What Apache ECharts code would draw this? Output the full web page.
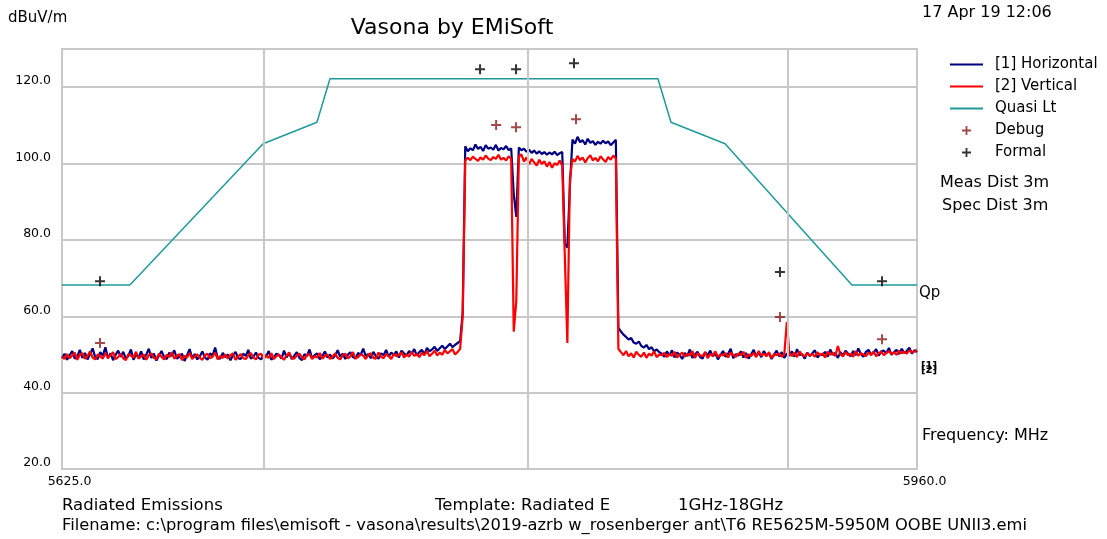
<!DOCTYPE html>
<html>
<head>
<meta charset="utf-8">
<script src="https://cdn.jsdelivr.net/npm/echarts@6/dist/echarts.min.js"></script>
<style>
  html, body { margin: 0; padding: 0; background: #fff; }
  #chart { width: 1107px; height: 539px; }
</style>
</head>
<body>
<div id="chart"></div>
<script>
  // sweep: 1 MHz steps from 5625 MHz
  const sweepStart = 5625
  const sweepStep = 1

  const horizontal = [
    49.0, 50.2, 48.6, 49.8, 50.9, 48.9, 49.5, 51.2, 49.1, 50.4, 48.7, 50.1, 51.6, 49.3, 48.8, 50.6, 49.7, 51.9, 49.0, 50.3,
    48.5, 49.9, 51.0, 49.4, 50.7, 48.9, 49.6, 51.3, 48.6, 50.0, 49.2, 50.8, 48.7, 49.9, 51.5, 49.1, 50.2, 48.4, 49.7, 50.9,
    49.3, 48.8, 50.5, 49.6, 51.1, 48.9, 49.4, 50.2, 48.3, 49.8, 51.4, 49.0, 50.1, 48.7, 49.5, 50.8, 49.2, 48.6, 50.3, 49.7,
    51.8, 49.1, 48.9, 50.4, 49.3, 50.0, 48.5, 49.8, 50.7, 49.0, 48.8, 50.2, 49.6, 51.2, 48.9, 49.4, 50.5, 49.1, 48.7, 50.0,
    49.5, 50.9, 48.6, 49.3, 50.2, 49.8, 48.9, 51.0, 49.2, 50.4, 48.8, 49.7, 50.6, 49.1, 48.5, 50.1, 49.6, 51.3, 49.0, 49.8,
    50.3, 48.7, 49.5, 50.8, 49.2, 50.0, 48.9, 49.7, 51.1, 49.4, 50.2, 48.8, 49.9, 50.6, 49.3, 48.9, 50.4, 49.8, 51.5, 49.6,
    50.1, 49.0, 50.7, 49.5, 48.9, 50.3, 49.8, 51.2, 49.4, 50.5, 49.9, 50.8, 49.2, 51.0, 50.3, 49.7, 50.9, 50.2, 51.4, 49.8,
    50.6, 51.2, 50.0, 51.7, 50.8, 51.3, 52.0, 50.9, 51.6, 52.3, 51.4, 52.1, 52.8, 51.9, 52.5, 53.0,
    53.5, 61.0,
    104.5, 103.2, 104.0, 103.5, 105.0, 103.8, 104.4, 103.3, 104.8, 103.9, 104.2, 103.6, 104.9, 103.4, 104.1, 103.7, 104.6, 103.5, 104.0,
    92.0, 86.0,
    104.2, 103.5, 103.9, 103.1, 103.6, 102.8, 103.4, 102.6, 103.2, 102.5, 103.0, 102.3, 102.9, 102.4, 103.1, 102.2, 102.7, 103.0,
    79.0, 78.0, 94.0,
    106.3, 105.2, 107.0, 105.6, 106.1, 105.0, 106.5, 105.4, 105.9, 104.9, 105.7, 105.2, 106.0, 105.3, 105.8, 104.8, 105.5, 106.2,
    57.0,
    56.0, 55.2, 54.6, 53.9, 54.3, 53.1, 52.8, 53.4, 52.2, 51.8, 52.5, 51.4, 51.9, 50.8, 51.3, 50.6,
    50.2, 49.4, 50.8, 49.7, 51.1, 49.2, 50.5, 49.9, 48.8, 50.4,
    49.6, 51.3, 49.1, 50.0, 50.7, 49.3, 48.9, 50.6, 49.8, 51.0,
    49.5, 50.3, 48.7, 49.9, 50.9, 49.4, 50.2, 51.5, 49.0, 50.1,
    49.7, 50.8, 49.2, 50.4, 48.9, 50.0, 51.2, 49.6, 50.5, 49.3,
    50.9, 49.8, 50.3, 48.8, 49.9, 51.0, 49.5, 50.6, 49.1, 50.2,
    49.7, 50.8, 49.4, 51.4, 49.9, 50.1, 48.9, 50.5, 49.6, 50.3,
    51.1, 49.2, 50.0, 49.8, 50.7, 49.4, 51.3, 49.9, 50.4, 49.1,
    50.6, 49.7, 51.0, 50.2, 49.5, 50.9, 49.8, 51.6, 50.1, 49.4,
    50.7, 51.2, 49.9, 50.5, 51.4, 49.7, 50.8, 51.0, 50.3, 51.7,
    49.9, 50.6, 51.2, 50.1, 51.5, 50.4, 50.9, 51.8, 50.2, 51.1, 50.6
  ]

  const vertical = [
    49.4, 48.8, 50.1, 49.0, 49.7, 50.5, 48.6, 49.9, 50.3, 48.9, 49.6, 50.8, 49.2, 48.7, 50.0, 49.5, 48.9, 50.4, 49.1, 49.8,
    50.6, 48.8, 49.3, 50.2, 49.0, 48.5, 50.1, 49.7, 49.2, 50.7, 48.9, 49.5, 50.0, 48.6, 49.8, 50.3, 49.1, 48.8, 50.2, 49.4,
    48.7, 49.9, 49.3, 50.6, 48.9, 49.6, 50.1, 48.5, 49.7, 49.2, 50.4, 48.8, 49.5, 50.0, 49.1, 48.6, 49.8, 50.2, 49.0, 49.4,
    50.5, 48.7, 49.6, 49.1, 50.0, 48.9, 49.8, 50.3, 48.6, 49.4, 50.1, 49.0, 48.8, 49.7, 50.4, 49.2, 48.7, 49.9, 50.2, 48.9,
    49.6, 49.1, 50.3, 48.8, 49.5, 50.0, 49.2, 48.6, 49.8, 50.5, 49.0, 48.9, 49.7, 50.2, 49.3, 48.7, 49.9, 50.1, 48.8, 49.5,
    49.2, 50.4, 48.9, 49.6, 50.0, 48.8, 49.4, 50.3, 49.1, 48.7, 49.8, 50.2, 49.0, 49.5, 50.6, 48.9, 49.3, 50.0, 49.7, 48.8,
    49.9, 50.3, 49.1, 48.9, 50.5, 49.4, 49.0, 50.1, 49.6, 48.8, 50.2, 49.5, 49.8, 50.6, 49.2, 50.0, 49.4, 50.7, 49.6, 50.1,
    49.3, 50.4, 49.8, 50.9, 49.5, 50.2, 51.0, 49.7, 50.5, 49.9, 51.2, 50.3, 50.8, 51.4, 50.0, 50.6,
    51.5, 60.0,
    100.8, 101.5, 100.9, 101.8, 101.2, 100.7, 101.6, 101.0, 102.1, 101.3, 100.9, 101.7, 101.2, 102.3, 101.0, 101.5, 100.8, 101.9, 101.2,
    56.0, 64.0,
    101.8, 102.4, 100.5, 101.6, 99.8, 101.2, 100.3, 99.5, 101.0, 99.9, 100.6, 99.2, 100.4, 98.9, 100.1, 99.6, 100.8, 99.4,
    76.0, 53.0, 96.0,
    101.2, 100.5, 102.0, 100.9, 101.6, 100.3, 101.4, 102.2, 100.8, 101.5, 100.6, 101.9, 101.1, 100.4, 101.7, 101.0, 102.1, 101.3,
    51.5,
    50.6, 49.8, 50.9, 49.5, 50.3, 49.2, 50.7, 49.9, 49.4, 50.5, 49.1, 50.2, 49.7, 50.8, 49.3, 50.0,
    49.8, 50.4, 49.3, 50.1, 49.6, 50.7, 49.2, 49.9, 50.5, 49.4,
    50.2, 49.7, 50.9, 49.1, 50.3, 49.8, 49.5, 50.6, 49.0, 50.1,
    49.6, 50.8, 49.3, 50.0, 49.7, 50.4, 49.2, 50.5, 49.9, 49.4,
    50.3, 49.8, 50.7, 49.1, 50.0, 49.6, 50.4, 49.3, 50.9, 49.7,
    50.2, 49.5, 50.6, 49.0, 50.1, 49.8, 50.3, 49.4, 50.0, 58.5,
    50.2, 49.6, 50.5, 49.3, 50.8, 49.9, 49.5, 50.4, 49.7, 50.1,
    49.4, 50.6, 49.8, 50.3, 49.2, 50.7, 49.9, 50.4, 49.6, 52.2,
    50.0, 49.5, 50.6, 49.8, 50.2, 49.4, 50.9, 49.7, 50.3, 50.0,
    49.6, 50.5, 49.9, 50.8, 49.5, 50.3, 50.7, 49.8, 50.4, 50.9,
    50.1, 50.6, 49.9, 51.0, 50.3, 50.7, 50.2, 51.1, 50.5, 50.8, 51.2
  ]

  // Quasi peak limit line
  const limitFreq = [5625, 5651.6, 5703.8, 5724.9, 5730.0, 5858.5, 5863.6, 5884.8, 5934.5, 5960]
  const limitLevel = [68.2, 68.2, 105.2, 110.8, 122.2, 122.2, 110.8, 105.2, 68.2, 68.2]

  const debugFreq = [5639.9, 5795.1, 5802.9, 5826.4, 5906.3, 5946.3]
  const debugLevel = [53.0, 110.1, 109.5, 111.6, 59.8, 54.0]
  const formalFreq = [5639.9, 5788.8, 5802.9, 5825.6, 5906.3, 5946.3]
  const formalLevel = [69.2, 124.7, 124.7, 126.3, 71.6, 69.2]

  const xGridLines = [5704.1, 5807.6, 5909.5]
  const xTicks = [5625, 5960]

  const font = 'DejaVu Sans'
  const plus = 'path://M4,0H6V4H10V6H6V10H4V6H0V4H4Z'
  const dash = 'path://M0,0H33V2H0Z'

  const sweep = (vals) => vals.map((v, i) => [sweepStart + i * sweepStep, v])
  const pairs = (xs, ys) => xs.map((x, i) => [x, ys[i]])

  const chart = echarts.init(document.getElementById('chart'))
  chart.setOption({
    animation: false,
    backgroundColor: '#fff',
    title: {
      text: 'Vasona by EMiSoft',
      left: 447, top: 12, textAlign: 'center',
      textStyle: { fontFamily: font, fontSize: 22, fontWeight: 'normal', color: '#000' }
    },
    grid: {
      left: 62, right: 190, top: 49, bottom: 70,
      show: true, borderColor: '#c8c8c8', borderWidth: 2
    },
    legend: {
      orient: 'vertical', left: 945, top: 52,
      itemWidth: 33, itemHeight: 9, itemGap: 7,
      textStyle: { fontFamily: font, fontSize: 15, color: '#000', padding: [0, 0, 0, 7] },
      data: [
        { name: '[1] Horizontal', icon: dash },
        { name: '[2] Vertical', icon: dash },
        { name: 'Quasi Lt', icon: dash },
        { name: 'Debug', icon: plus },
        { name: 'Formal', icon: plus }
      ]
    },
    xAxis: {
      type: 'value',
      min: xTicks[0], max: xTicks[1], interval: xTicks[1] - xTicks[0],
      axisLine: { show: false }, axisTick: { show: false }, splitLine: { show: false },
      axisLabel: {
        fontFamily: font, fontSize: 12.5, color: '#000', margin: 6,
        padding: [0, 0, 0, 15],
        formatter: v => v.toFixed(1)
      }
    },
    yAxis: {
      type: 'value',
      min: 20, max: 130, interval: 20,
      axisLine: { show: false }, axisTick: { show: false },
      splitLine: { lineStyle: { color: '#c8c8c8', width: 2 } },
      axisLabel: {
        fontFamily: font, fontSize: 12.5, color: '#000', margin: 11,
        verticalAlign: 'bottom', lineHeight: 12,
        formatter: v => (v > 120 ? '' : v.toFixed(1))
      }
    },
    series: [
      {
        name: 'grid', type: 'line', data: [], z: 1, silent: true,
        markLine: {
          silent: true, symbol: 'none', label: { show: false },
          lineStyle: { color: '#c8c8c8', width: 2, type: 'solid' },
          data: xGridLines.map(x => ({ xAxis: x }))
        }
      },
      {
        name: 'Quasi Lt', type: 'line', data: pairs(limitFreq, limitLevel),
        showSymbol: false, z: 2,
        itemStyle: { color: '#1f9a9a' },
        lineStyle: { color: '#1f9a9a', width: 1.5 }
      },
      {
        name: '[1] Horizontal', type: 'line', data: sweep(horizontal),
        showSymbol: false, z: 3,
        itemStyle: { color: '#000080' },
        lineStyle: { color: '#000080', width: 2.2 }
      },
      {
        name: '[2] Vertical', type: 'line', data: sweep(vertical),
        showSymbol: false, z: 4,
        itemStyle: { color: '#ff0000' },
        lineStyle: { color: '#ff0000', width: 2.2 }
      },
      {
        name: 'Debug', type: 'scatter', data: pairs(debugFreq, debugLevel),
        symbol: plus, symbolSize: 10, z: 5,
        itemStyle: { color: '#8b1c1c' }
      },
      {
        name: 'Formal', type: 'scatter', data: pairs(formalFreq, formalLevel),
        symbol: plus, symbolSize: 10, z: 5,
        itemStyle: { color: '#000' }
      }
    ],
    graphic: [
      { type: 'text', left: 8, top: 11, style: { text: 'dBuV/m', font: '15px "DejaVu Sans"', fill: '#000' } },
      { type: 'text', left: 922, top: 5, style: { text: '17 Apr 19 12:06', font: '16px "DejaVu Sans"', fill: '#000' } },
      { type: 'text', left: 940, top: 175, style: { text: 'Meas Dist 3m', font: '16px "DejaVu Sans"', fill: '#000' } },
      { type: 'text', left: 942, top: 198, style: { text: 'Spec Dist 3m', font: '16px "DejaVu Sans"', fill: '#000' } },
      { type: 'text', left: 919, top: 286, style: { text: 'Qp', font: '15px "DejaVu Sans"', fill: '#000' } },
      { type: 'text', left: 921, top: 361, style: { text: '[1]', font: 'bold 10px "DejaVu Sans"', fill: '#000' } },
      { type: 'text', left: 921, top: 365, style: { text: '[2]', font: 'bold 10px "DejaVu Sans"', fill: '#000' } },
      { type: 'text', left: 922, top: 428, style: { text: 'Frequency: MHz', font: '16px "DejaVu Sans"', fill: '#000' } },
      { type: 'text', left: 62, top: 497, style: { text: 'Radiated Emissions', font: '16.5px "DejaVu Sans"', fill: '#000' } },
      { type: 'text', left: 435, top: 497, style: { text: 'Template: Radiated E', font: '16.5px "DejaVu Sans"', fill: '#000' } },
      { type: 'text', left: 678, top: 497, style: { text: '1GHz-18GHz', font: '16.5px "DejaVu Sans"', fill: '#000' } },
      { type: 'text', left: 62, top: 518, style: { text: 'Filename: c:\\program files\\emisoft - vasona\\results\\2019-azrb w_rosenberger ant\\T6 RE5625M-5950M OOBE UNII3.emi', font: '16.3px "DejaVu Sans"', fill: '#000' } }
    ]
  })
</script>
</body>
</html>
